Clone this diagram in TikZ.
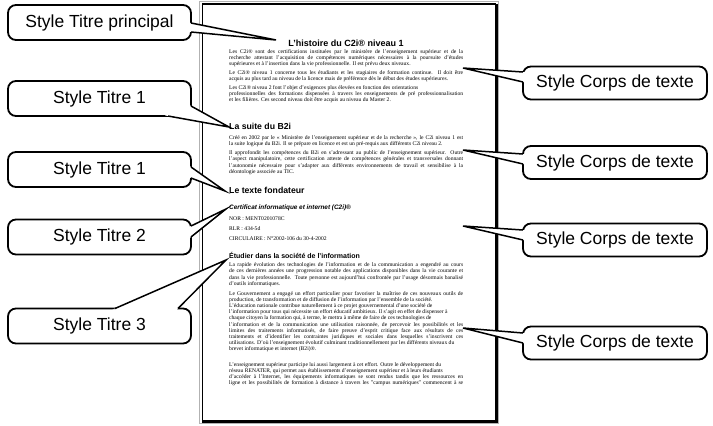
\documentclass[tikz,border=0pt]{standalone}
\usepackage{fontspec}
\setmainfont{Liberation Serif}
\setsansfont{Liberation Sans}
\usetikzlibrary{calc}
\newcommand\drawtail[3]{%
  \fill[white] ($(#1)!-3pt!(#3)$) -- (#3) -- ($(#2)!-3pt!(#3)$) -- cycle;
  \draw[tailline] (#1) -- (#3) -- (#2);}
\newcommand\J[1]{\hbox to 234pt{#1}}
\begin{document}
\begin{tikzpicture}[x=1pt,y=-1pt,
  callout/.style={draw, line width=1.8pt, fill=white, rounded corners=8pt, inner sep=0pt, font=\fontsize{17.5}{20}\sffamily},
  lbox/.style={callout, minimum width=183pt, minimum height=35pt},
  rbox/.style={callout, minimum width=184pt, minimum height=33pt},
  tailline/.style={line width=1.5pt, line join=miter},
  body/.style={anchor=north west, inner sep=0pt, align=left, font=\fontsize{5.6}{6.2}\selectfont},
  bodyline/.style={anchor=west, inner sep=0pt, font=\fontsize{5.6}{6.2}\selectfont},
  head/.style={anchor=west, inner sep=0pt, font=\fontsize{8.7}{10}\sffamily\bfseries}
]
\useasboundingbox (0,0) rectangle (713,426);
\fill[white] (0,0) rectangle (713,426);
% page
\draw[gray!60, line width=0.8pt] (199.5,1.5) rectangle (498,423.5);
\draw[fill=white, line width=1.1pt] (202.5,4) rectangle (495.5,420.5);
\draw[line width=2.2pt] (496.5,4) -- (496.5,421.6) -- (202,421.6);
% page text
\node[inner sep=0pt, font=\fontsize{9}{11}\sffamily\bfseries] (title) at (346,43) {L'histoire du C2i® niveau 1};
\node[body] (a1) at (229,49) {\J{Les C2i® sont des certifications instituées par le ministère de l'enseignement supérieur et de la}\\
\J{recherche attestant l'acquisition de compétences numériques nécessaires à la poursuite d'études}\\
supérieures et à l'insertion dans la vie professionnelle. Il est prévu deux niveaux.};
\node[body] (a2) at (229,70) {\J{Le C2i® niveau 1 concerne tous les étudiants et les stagiaires de formation continue. Il doit être}\\
acquis au plus tard au niveau de la licence mais de préférence dès le début des études supérieures.};
\node[body] (a3) at (229,85) {Les C2i® niveau 2 font l'objet d'exigences plus élevées en fonction des orientations\\
\J{professionnelles des formations dispensées à travers les enseignements de pré professionnalisation}\\
et les filières. Ces second niveau doit être acquis au niveau du Master 2.};
\node[head] (hb) at (229,126) {La suite du B2i};
\node[body] (b1) at (229,135) {\J{Créé en 2002 par le « Ministère de l'enseignement supérieur et de la recherche », le C2i niveau 1 est}\\
la suite logique du B2i. Il se prépare en licence et est un pré-requis aux différents C2i niveau 2.};
\node[body] (b2) at (229,150.5) {\J{Il approfondit les compétences du B2i en s'adressant au public de l'enseignement supérieur. Outre}\\
\J{l'aspect manipulatoire, cette certification atteste de compétences générales et transversales donnant}\\
\J{l'autonomie nécessaire pour s'adapter aux différents environnements de travail et sensibilise à la}\\
déontologie associée au TIC.};
\node[head] (hc) at (229,190) {Le texte fondateur};
\node[anchor=west, inner sep=0pt, font=\fontsize{6.4}{8}\sffamily\bfseries\itshape] (cert) at (229,208) {Certificat informatique et internet (C2i)®};
\node[bodyline] (nor) at (229,219) {NOR : MENT0201078C};
\node[bodyline] (rlr) at (229,229) {RLR : 434-5d};
\node[bodyline] (circ) at (229,239) {CIRCULAIRE : N°2002-106 du 30-4-2002};
\node[anchor=west, inner sep=0pt, font=\fontsize{7}{8}\sffamily\bfseries] (hd) at (229,255) {Étudier dans la société de l'information};
\node[body] (d1) at (229,262.5) {\J{La rapide évolution des technologies de l'information et de la communication a engendré au cours}\\
\J{de ces dernières années une progression notable des applications disponibles dans la vie courante et}\\
\J{dans la vie professionnelle. Toute personne est aujourd'hui confrontée par l'usage désormais banalisé}\\
d'outils informatiques.};
\node[body] (d2) at (229,291) {\J{Le Gouvernement a engagé un effort particulier pour favoriser la maîtrise de ces nouveaux outils de}\\
production, de transformation et de diffusion de l'information par l'ensemble de la société.\\
L'éducation nationale contribue naturellement à ce projet gouvernemental d'une société de\\
l'information pour tous qui nécessite un effort éducatif ambitieux. Il s'agit en effet de dispenser à\\
chaque citoyen la formation qui, à terme, le mettra à même de faire de ces technologies de\\
\J{l'information et de la communication une utilisation raisonnée, de percevoir les possibilités et les}\\
\J{limites des traitements informatisés, de faire preuve d'esprit critique face aux résultats de ces}\\
\J{traitements et d'identifier les contraintes juridiques et sociales dans lesquelles s'inscrivent ces}\\
utilisations. D'où l'enseignement évolutif culminant traditionnellement par les différents niveaux du\\
brevet informatique et internet (B2i)®.};
\node[body] (d3) at (229,362) {L'enseignement supérieur participe lui aussi largement à cet effort. Outre le développement du\\
réseau RENATER, qui permet aux établissements d'enseignement supérieur et à leurs étudiants\\
\J{d'accéder à l'Internet, les équipements informatiques se sont rendus tandis que les ressources en}\\
\J{ligne et les possibilités de formation à distance à travers les "campus numériques" commencent à se}};
% callouts left
\node[lbox] (c1) at (99.5,22.5) {Style Titre principal};
\node[lbox] (c2) at (99.5,98.5) {Style Titre 1};
\node[lbox] (c3) at (99.5,169.5) {Style Titre 1};
\node[lbox] (c4) at (99.5,237) {Style Titre 2};
\node[lbox] (c5) at (99.5,326) {Style Titre 3};
% callouts right
\node[rbox] (r1) at (615,83) {Style Corps de texte};
\node[rbox] (r2) at (615,162.5) {Style Corps de texte};
\node[rbox] (r3) at (615,240) {Style Corps de texte};
\node[rbox] (r4) at (615,343) {Style Corps de texte};
% tail coordinates
\coordinate (c1a) at (191,23);   \coordinate (c1b) at (191,32);   \coordinate (c1t) at (276,40);
\coordinate (c2a) at (191,106);  \coordinate (c2b) at (168,116);  \coordinate (c2t) at (229,127);
\coordinate (c3a) at (191,167);  \coordinate (c3b) at (191,178);  \coordinate (c3t) at (225,191);
\coordinate (c4a) at (191,226);  \coordinate (c4b) at (191,237);  \coordinate (c4t) at (226,209);
\coordinate (c5a) at (115,308.5);\coordinate (c5b) at (178,308.5);\coordinate (c5t) at (226,260);
\coordinate (r1a) at (523,72);   \coordinate (r1b) at (523,82);   \coordinate (r1t) at (463,68);
\coordinate (r2a) at (523,154);  \coordinate (r2b) at (523,164);  \coordinate (r2t) at (463,150);
\coordinate (r3a) at (523,230);  \coordinate (r3b) at (523,240);  \coordinate (r3t) at (463,226);
\coordinate (r4a) at (523,333);  \coordinate (r4b) at (523,343);  \coordinate (r4t) at (463,328);
\drawtail{c1a}{c1b}{c1t}
\drawtail{c2a}{c2b}{c2t}
\drawtail{c3a}{c3b}{c3t}
\drawtail{c4a}{c4b}{c4t}
\drawtail{c5a}{c5b}{c5t}
\drawtail{r1a}{r1b}{r1t}
\drawtail{r2a}{r2b}{r2t}
\drawtail{r3a}{r3b}{r3t}
\drawtail{r4a}{r4b}{r4t}
\end{tikzpicture}
\end{document}
